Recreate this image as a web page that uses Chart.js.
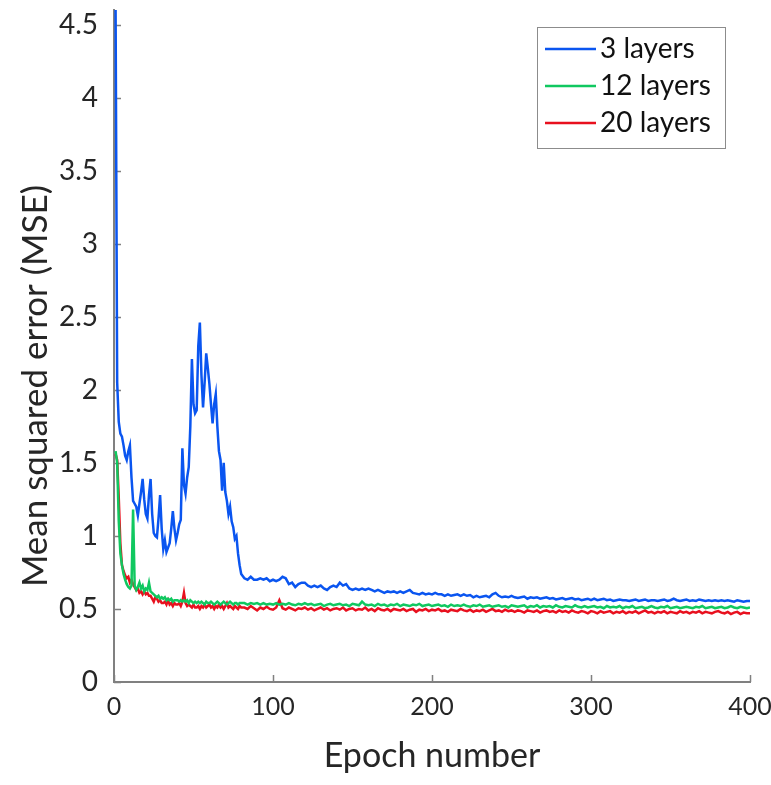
<!DOCTYPE html>
<html lang="en">
<head>
    <meta charset="UTF-8">
    <title>MSE vs epoch</title>
    <script src="https://cdn.jsdelivr.net/npm/chart.js@4.4.1/dist/chart.umd.min.js"></script>
    <style>
        body { margin: 0; background: #fff; }
        #wrap { width: 771px; height: 785px; }
    </style>
</head>
<body>
  <div id="wrap"><canvas id="chart"></canvas></div>
<script>
// epochs: every epoch up to 80, then every second epoch
const epochs = [
  1,2,3,4,5,6,7,8,9,10,11,12,13,14,15,16,17,18,19,20,
  21,22,23,24,25,26,27,28,29,30,31,32,33,34,35,36,37,38,39,40,
  41,42,43,44,45,46,47,48,49,50,51,52,53,54,55,56,57,58,59,60,
  61,62,63,64,65,66,67,68,69,70,71,72,73,74,75,76,77,78,79,80,
  82,84,86,88,90,92,94,96,98,100,102,104,106,108,110,112,114,116,118,120,
  122,124,126,128,130,132,134,136,138,140,142,144,146,148,150,152,154,156,158,160,
  162,164,166,168,170,172,174,176,178,180,182,184,186,188,190,192,194,196,198,200,
  202,204,206,208,210,212,214,216,218,220,222,224,226,228,230,232,234,236,238,240,
  242,244,246,248,250,252,254,256,258,260,262,264,266,268,270,272,274,276,278,280,
  282,284,286,288,290,292,294,296,298,300,302,304,306,308,310,312,314,316,318,320,
  322,324,326,328,330,332,334,336,338,340,342,344,346,348,350,352,354,356,358,360,
  362,364,366,368,370,372,374,376,378,380,382,384,386,388,390,392,394,396,398,400
]

const mse3 = [
  4.6, 2.05, 1.78, 1.70, 1.68, 1.62, 1.55, 1.52, 1.58, 1.62,
  1.40, 1.24, 1.22, 1.20, 1.14, 1.22, 1.30, 1.39, 1.25, 1.15,
  1.12, 1.28, 1.39, 1.15, 1.02, 1.00, 0.99, 1.12, 1.28, 1.05,
  0.91, 0.97, 0.89, 0.92, 0.95, 1.05, 1.17, 1.05, 0.97, 1.02,
  1.08, 1.11, 1.60, 1.35, 1.29, 1.40, 1.47, 1.75, 2.21, 1.90,
  1.84, 1.86, 2.30, 2.46, 2.10, 1.88, 2.05, 2.25, 2.15, 2.04,
  1.90, 1.77, 1.90, 1.97, 1.75, 1.58, 1.52, 1.31, 1.50, 1.30,
  1.24, 1.15, 1.20, 1.10, 1.06, 0.98, 1.00, 0.88, 0.80, 0.74,
  0.71, 0.70, 0.72, 0.70, 0.70, 0.71, 0.70, 0.71, 0.69, 0.70,
  0.69, 0.70, 0.72, 0.71, 0.67, 0.68, 0.65, 0.67, 0.68, 0.68,
  0.66, 0.65, 0.66, 0.65, 0.66, 0.64, 0.63, 0.65, 0.66, 0.65,
  0.68, 0.66, 0.67, 0.64, 0.63, 0.64, 0.63, 0.64, 0.63, 0.64,
  0.63, 0.62, 0.63, 0.62, 0.61, 0.62, 0.615, 0.62, 0.61, 0.62,
  0.61, 0.62, 0.63, 0.61, 0.605, 0.60, 0.61, 0.60, 0.605, 0.60,
  0.61, 0.60, 0.60, 0.59, 0.60, 0.59, 0.595, 0.60, 0.59, 0.60,
  0.59, 0.595, 0.58, 0.59, 0.58, 0.585, 0.59, 0.58, 0.60, 0.61,
  0.59, 0.58, 0.585, 0.58, 0.59, 0.58, 0.575, 0.58, 0.585, 0.57,
  0.58, 0.575, 0.58, 0.57, 0.575, 0.58, 0.57, 0.575, 0.565, 0.57,
  0.575, 0.565, 0.57, 0.575, 0.565, 0.57, 0.56, 0.565, 0.57, 0.56,
  0.57, 0.56, 0.565, 0.57, 0.56, 0.565, 0.555, 0.56, 0.565, 0.56,
  0.56, 0.555, 0.56, 0.565, 0.555, 0.56, 0.565, 0.555, 0.56, 0.56,
  0.555, 0.56, 0.565, 0.555, 0.56, 0.57, 0.56, 0.555, 0.56, 0.565,
  0.555, 0.56, 0.555, 0.565, 0.56, 0.555, 0.56, 0.555, 0.56, 0.555,
  0.56, 0.555, 0.56, 0.555, 0.55, 0.56, 0.555, 0.55, 0.555, 0.555
]

const mse12 = [
  1.58, 1.50, 1.10, 0.88, 0.80, 0.74, 0.70, 0.67, 0.65, 0.64,
  0.66, 1.18, 0.66, 0.63, 0.65, 0.68, 0.64, 0.66, 0.62, 0.64,
  0.63, 0.68, 0.62, 0.61, 0.60, 0.59, 0.58, 0.59, 0.57, 0.58,
  0.57, 0.58, 0.56, 0.57, 0.56, 0.57, 0.55, 0.56, 0.56, 0.56,
  0.55, 0.56, 0.55, 0.56, 0.55, 0.56, 0.54, 0.56, 0.55, 0.54,
  0.55, 0.54, 0.55, 0.54, 0.55, 0.54, 0.53, 0.55, 0.54, 0.54,
  0.55, 0.54, 0.53, 0.54, 0.55, 0.54, 0.53, 0.54, 0.55, 0.54,
  0.53, 0.54, 0.55, 0.54, 0.53, 0.54, 0.54, 0.53, 0.54, 0.54,
  0.54, 0.53, 0.54, 0.535, 0.54, 0.53, 0.54, 0.53, 0.535, 0.53,
  0.54, 0.53, 0.535, 0.53, 0.54, 0.53, 0.525, 0.535, 0.53, 0.54,
  0.53, 0.535, 0.525, 0.53, 0.535, 0.52, 0.53, 0.535, 0.525, 0.53,
  0.535, 0.525, 0.53, 0.52, 0.535, 0.53, 0.525, 0.55, 0.53, 0.525,
  0.53, 0.52, 0.535, 0.525, 0.53, 0.52, 0.53, 0.525, 0.535, 0.52,
  0.53, 0.525, 0.52, 0.53, 0.525, 0.535, 0.52, 0.525, 0.53, 0.52,
  0.525, 0.53, 0.52, 0.525, 0.515, 0.53, 0.52, 0.525, 0.52, 0.53,
  0.52, 0.515, 0.525, 0.52, 0.53, 0.515, 0.52, 0.525, 0.515, 0.52,
  0.525, 0.515, 0.52, 0.51, 0.525, 0.52, 0.515, 0.52, 0.525, 0.51,
  0.52, 0.515, 0.525, 0.51, 0.52, 0.515, 0.52, 0.51, 0.525, 0.515,
  0.51, 0.52, 0.515, 0.51, 0.525, 0.515, 0.51, 0.52, 0.51, 0.515,
  0.52, 0.51, 0.515, 0.505, 0.52, 0.51, 0.515, 0.51, 0.52, 0.505,
  0.515, 0.51, 0.52, 0.505, 0.51, 0.515, 0.505, 0.51, 0.52, 0.51,
  0.505, 0.515, 0.51, 0.52, 0.505, 0.51, 0.515, 0.505, 0.51, 0.515,
  0.51, 0.505, 0.515, 0.51, 0.52, 0.505, 0.51, 0.515, 0.505, 0.51,
  0.515, 0.505, 0.51, 0.52, 0.51, 0.505, 0.515, 0.51, 0.505, 0.51
]

const mse20 = [
  1.56, 1.52, 1.26, 0.95, 0.80, 0.76, 0.73, 0.71, 0.72, 0.68,
  0.70, 0.67, 0.65, 0.63, 0.64, 0.61, 0.62, 0.60, 0.62, 0.60,
  0.61, 0.59, 0.59, 0.57, 0.55, 0.58, 0.57, 0.55, 0.56, 0.54,
  0.54, 0.55, 0.53, 0.56, 0.53, 0.54, 0.52, 0.54, 0.53, 0.53,
  0.54, 0.52, 0.55, 0.61, 0.54, 0.52, 0.53, 0.52, 0.51, 0.53,
  0.51, 0.51, 0.52, 0.50, 0.52, 0.51, 0.53, 0.51, 0.52, 0.53,
  0.51, 0.52, 0.50, 0.52, 0.51, 0.53, 0.51, 0.52, 0.50, 0.52,
  0.54, 0.51, 0.52, 0.51, 0.50, 0.52, 0.51, 0.50, 0.52, 0.51,
  0.51, 0.50, 0.52, 0.505, 0.49, 0.51, 0.50, 0.515, 0.50, 0.495,
  0.51, 0.56, 0.505, 0.495, 0.51, 0.50, 0.49, 0.505, 0.50, 0.51,
  0.495, 0.505, 0.49, 0.50, 0.51, 0.495, 0.505, 0.49, 0.50, 0.505,
  0.495, 0.51, 0.49, 0.50, 0.505, 0.49, 0.50, 0.495, 0.51, 0.49,
  0.50, 0.485, 0.505, 0.495, 0.49, 0.50, 0.485, 0.50, 0.495, 0.49,
  0.50, 0.485, 0.495, 0.50, 0.48, 0.495, 0.49, 0.50, 0.485, 0.495,
  0.49, 0.50, 0.485, 0.49, 0.48, 0.495, 0.49, 0.485, 0.50, 0.49,
  0.485, 0.495, 0.48, 0.49, 0.485, 0.495, 0.48, 0.49, 0.50, 0.485,
  0.49, 0.48, 0.495, 0.485, 0.49, 0.48, 0.49, 0.485, 0.475, 0.49,
  0.485, 0.48, 0.49, 0.475, 0.485, 0.49, 0.48, 0.485, 0.475, 0.49,
  0.48, 0.485, 0.475, 0.49, 0.48, 0.475, 0.485, 0.48, 0.47, 0.485,
  0.48, 0.47, 0.485, 0.475, 0.48, 0.485, 0.47, 0.48, 0.475, 0.485,
  0.47, 0.48, 0.475, 0.485, 0.47, 0.48, 0.49, 0.475, 0.48, 0.47,
  0.48, 0.475, 0.485, 0.47, 0.48, 0.475, 0.47, 0.485, 0.475, 0.48,
  0.47, 0.48, 0.475, 0.485, 0.47, 0.48, 0.475, 0.47, 0.48, 0.485,
  0.475, 0.47, 0.48, 0.465, 0.475, 0.48, 0.465, 0.475, 0.47, 0.47
]

const seriesNames = ['3 layers', '12 layers', '20 layers']
const seriesColors = ['#0a55f0', '#10c860', '#e8101e']
const xTicks = [0, 100, 200, 300, 400]
const xTickLabels = ['0', '100', '200', '300', '400']
const yTicks = [0, 0.5, 1, 1.5, 2, 2.5, 3, 3.5, 4, 4.5]
const yTickLabels = ['0', '0.5', '1', '1.5', '2', '2.5', '3', '3.5', '4', '4.5']
const xTitle = 'Epoch number'
const yTitle = 'Mean squared error (MSE)'

const FONT = 'Lato, "Open Sans", sans-serif'
const AXIS = '#808080'
const TEXT = '#262626'

function toPoints(vals) {
  return vals.map((v, i) => ({ x: epochs[i], y: v }))
}

// inward tick marks + rotated y title
const axisDecor = {
  id: 'axisDecor',
  beforeDatasetsDraw(chart) {
    const { ctx, chartArea: a, scales: { x, y } } = chart
    ctx.save()
    ctx.strokeStyle = AXIS
    ctx.lineWidth = 1.5
    ctx.beginPath()
    xTicks.forEach(v => {
      const px = Math.round(x.getPixelForValue(v)) + 0.5
      ctx.moveTo(px, a.bottom)
      ctx.lineTo(px, a.bottom - 7)
    })
    yTicks.forEach(v => {
      const py = Math.round(y.getPixelForValue(v)) + 0.5
      ctx.moveTo(a.left, py)
      ctx.lineTo(a.left + 7, py)
    })
    ctx.stroke()
    ctx.translate(36, 386)
    ctx.rotate(-Math.PI / 2)
    ctx.font = '35px ' + FONT
    ctx.fillStyle = TEXT
    ctx.textAlign = 'center'
    ctx.textBaseline = 'middle'
    ctx.fillText(yTitle, 0, 0)
    ctx.restore()
  }
}

// boxed legend in the upper right corner
const boxLegend = {
  id: 'boxLegend',
  afterDatasetsDraw(chart) {
    const { ctx } = chart
    const bx = 537, by = 27, bw = 188, bh = 121
    ctx.save()
    ctx.fillStyle = '#fff'
    ctx.fillRect(bx, by, bw, bh)
    ctx.strokeStyle = '#8c8c8c'
    ctx.lineWidth = 1
    ctx.strokeRect(bx + 0.5, by + 0.5, bw, bh)
    ctx.font = '28px ' + FONT
    ctx.textBaseline = 'middle'
    ctx.fillStyle = '#111'
    chart.data.datasets.forEach((ds, i) => {
      const yy = by + 22 + i * 37
      ctx.strokeStyle = ds.borderColor
      ctx.lineWidth = 2.5
      ctx.beginPath()
      ctx.moveTo(545, yy)
      ctx.lineTo(596, yy)
      ctx.stroke()
      ctx.fillText(ds.label, 600, yy)
    })
    ctx.restore()
  }
}

const datasets = [mse3, mse12, mse20].map((vals, i) => ({
  label: seriesNames[i],
  data: toPoints(vals),
  borderColor: seriesColors[i],
  backgroundColor: seriesColors[i],
  borderWidth: 2.5,
  pointRadius: 0,
  fill: false,
  tension: 0
}))

const ctx = document.getElementById('chart').getContext('2d')
const myChart = new Chart(ctx, {
  type: 'line',
  data: { datasets: datasets },
  options: {
    responsive: true,
    maintainAspectRatio: false,
    animation: false,
    layout: { padding: { left: 0, right: 21, top: 10, bottom: 0 } },
    plugins: { legend: { display: false }, tooltip: { enabled: false } },
    scales: {
      x: {
        type: 'linear',
        min: 0,
        max: 400,
        afterBuildTicks: s => { s.ticks = xTicks.map(v => ({ value: v })) },
        afterFit: s => {
          s.height = 103
          s.paddingLeft = 0
          s.paddingRight = 0
        },
        grid: { display: false, drawTicks: false },
        border: { display: true, color: AXIS, width: 2 },
        ticks: {
          color: TEXT, padding: 10, maxRotation: 0,
          font: { family: FONT, size: 25 },
          callback: v => xTickLabels[xTicks.indexOf(v)]
        },
        title: { display: true, text: xTitle, color: TEXT, font: { family: FONT, size: 34 }, padding: { bottom: 9 } }
      },
      y: {
        min: 0,
        max: 4.6,
        afterBuildTicks: s => { s.ticks = yTicks.map(v => ({ value: v })) },
        afterFit: s => {
          s.width = 114
          s.paddingTop = 0
          s.paddingBottom = 0
        },
        grid: { display: false, drawTicks: false },
        border: { display: true, color: AXIS, width: 2 },
        ticks: {
          color: TEXT, padding: 16,
          font: { family: FONT, size: 28 },
          callback: v => yTickLabels[yTicks.indexOf(v)]
        }
      }
    }
  },
  plugins: [axisDecor, boxLegend]
})
</script>
</body>
</html>
